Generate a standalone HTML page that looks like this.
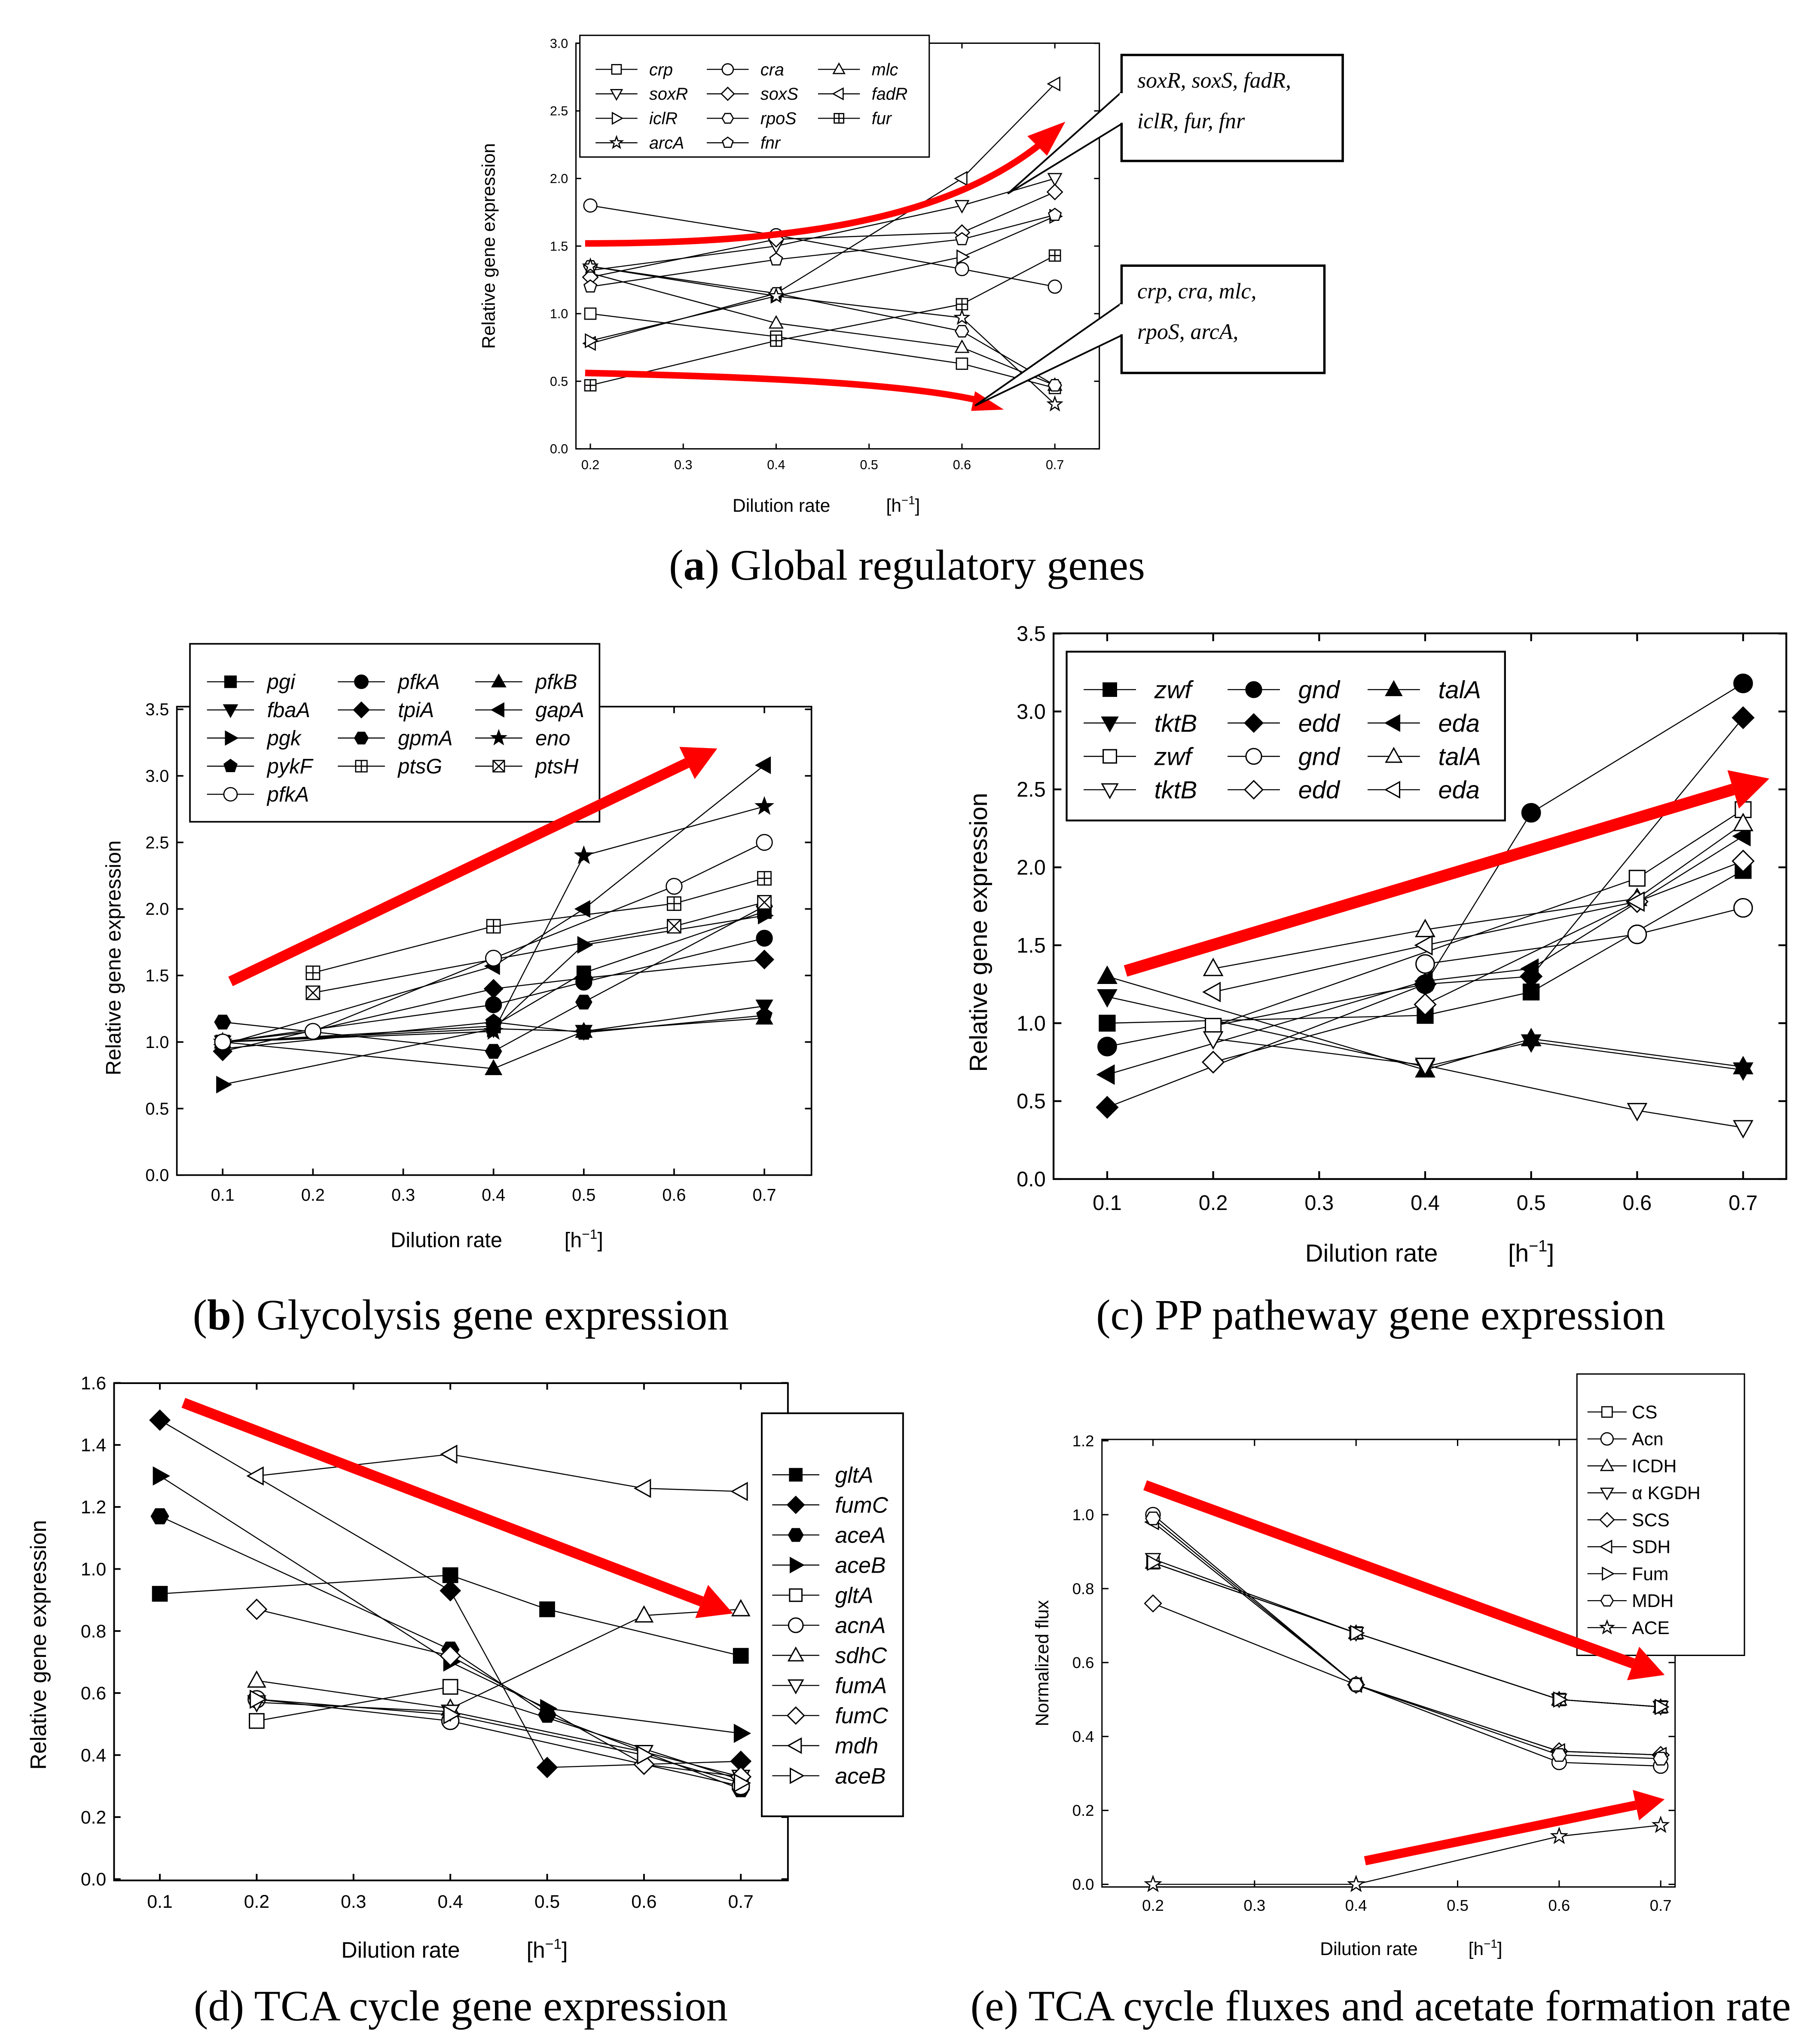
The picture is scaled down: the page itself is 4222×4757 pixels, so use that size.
<!DOCTYPE html>
<html><head><meta charset="utf-8">
<style>
html,body{margin:0;padding:0;background:#fff;}
svg{display:block;}
text{font-family:"Liberation Sans",sans-serif;fill:#000;}
.ser{font-family:"Liberation Serif",serif;}
</style></head>
<body>
<svg id="fig" xmlns="http://www.w3.org/2000/svg" width="4222" height="4757" viewBox="0 0 1386 1562">
<rect x="0" y="0" width="1386" height="1562" fill="#fff"/>
<g id="root"></g>
</svg>
<script>
// ---------- Panel a: global regulatory genes ----------
const aNames=["crp","cra","mlc","soxR","soxS","fadR","iclR","rpoS","fur","arcA","fnr"];
const aMarkers=["sq","ci","tu","td","di","tl","tr","hx","sp","st","pe"];
const aX=[0.2,0.4,0.6,0.7];
const aValues=[
[1.0,0.83,0.63,0.45],[1.8,1.58,1.33,1.2],[1.3,0.93,0.75,0.47],[1.32,1.5,1.8,2.0],
[1.27,1.55,1.6,1.9],[0.78,1.15,2.0,2.7],[0.8,1.13,1.42,1.72],[1.35,1.15,0.87,0.47],
[0.47,0.8,1.07,1.43],[1.35,1.13,0.97,0.33],[1.2,1.4,1.55,1.73]];
const aXTicks=[0.2,0.3,0.4,0.5,0.6,0.7];
const aYTicks=[0,0.5,1.0,1.5,2.0,2.5,3.0];
// ---------- Panel b: glycolysis ----------
const bNames=["pgi","pfkA","pfkB","fbaA","tpiA","gapA","pgk","gpmA","eno","pykF","ptsG","ptsH","pfkA"];
const bMarkers=["sq","ci","tu","td","di","tl","tr","hx","st","pe","sp","sx","ci"];
const bFilled=[1,1,1,1,1,1,1,1,1,1,0,0,0];
const bXs=[[0.1,0.4,0.5,0.7],[0.1,0.4,0.5,0.7],[0.1,0.4,0.5,0.7],[0.1,0.4,0.5,0.7],[0.1,0.4,0.5,0.7],[0.1,0.4,0.5,0.7],[0.1,0.4,0.5,0.7],[0.1,0.4,0.5,0.7],[0.1,0.4,0.5,0.7],[0.1,0.4,0.5,0.7],[0.2,0.4,0.6,0.7],[0.2,0.6,0.7],[0.1,0.2,0.4,0.6,0.7]];
const bValues=[
[1.0,1.12,1.52,1.98],[1.0,1.28,1.45,1.78],[1.0,0.8,1.08,1.18],[1.0,1.1,1.08,1.27],
[0.93,1.4,1.48,1.62],[0.98,1.57,2.0,3.08],[0.68,1.1,1.73,1.95],[1.15,0.93,1.3,2.02],
[1.0,1.08,2.4,2.77],[0.95,1.15,1.07,1.2],[1.52,1.87,2.04,2.23],[1.37,1.87,2.05],[1.0,1.08,1.63,2.17,2.5]];
const bXTicks=[0.1,0.2,0.3,0.4,0.5,0.6,0.7];
const bYTicks=[0,0.5,1.0,1.5,2.0,2.5,3.0,3.5];
// ---------- Panel c: PP pathway ----------
const cNames=["zwf","gnd","talA","tktB","edd","eda","zwf","gnd","talA","tktB","edd","eda"];
const cMarkers=["sq","ci","tu","td","di","tl","sq","ci","tu","td","di","tl"];
const cFilled=[1,1,1,1,1,1,0,0,0,0,0,0];
const cXs=[[0.1,0.4,0.5,0.7],[0.1,0.4,0.5,0.7],[0.1,0.4,0.5,0.7],[0.1,0.4,0.5,0.7],[0.1,0.4,0.5,0.7],[0.1,0.4,0.5,0.7],[0.2,0.6,0.7],[0.4,0.6,0.7],[0.2,0.4,0.6,0.7],[0.2,0.4,0.6,0.7],[0.2,0.4,0.6,0.7],[0.2,0.4,0.6]];
const cValues=[
[1.0,1.05,1.2,1.98],[0.85,1.25,2.35,3.18],[1.3,0.7,0.9,0.72],[1.17,0.72,0.88,0.7],
[0.46,1.25,1.3,2.96],[0.67,1.27,1.35,2.2],[0.98,1.93,2.37],[1.38,1.57,1.74],
[1.35,1.6,1.8,2.28],[0.9,0.73,0.44,0.33],[0.75,1.12,1.78,2.04],[1.2,1.5,1.78]];
const cXTicks=[0.1,0.2,0.3,0.4,0.5,0.6,0.7];
const cYTicks=[0,0.5,1.0,1.5,2.0,2.5,3.0,3.5];
// ---------- Panel d: TCA genes ----------
const dNames=["gltA","fumC","aceA","aceB","gltA","acnA","sdhC","fumA","fumC","mdh","aceB"];
const dMarkers=["sq","di","hx","tr","sq","ci","tu","td","di","tl","tr"];
const dFilled=[1,1,1,1,0,0,0,0,0,0,0];
const dXs=[[0.1,0.4,0.5,0.7],[0.1,0.4,0.5,0.7],[0.1,0.4,0.5,0.7],[0.1,0.4,0.5,0.7],[0.2,0.4,0.7],[0.2,0.4,0.7],[0.2,0.4,0.6,0.7],[0.2,0.4,0.6,0.7],[0.2,0.4,0.6,0.7],[0.2,0.4,0.6,0.7],[0.2,0.4,0.6,0.7]];
const dValues=[
[0.92,0.98,0.87,0.72],[1.48,0.93,0.36,0.38],[1.17,0.74,0.53,0.29],[1.3,0.7,0.55,0.47],
[0.51,0.62,0.32],[0.58,0.51,0.3],[0.64,0.55,0.85,0.87],[0.57,0.54,0.41,0.33],
[0.87,0.72,0.37,0.33],[1.3,1.37,1.26,1.25],[0.58,0.53,0.4,0.31]];
const dXTicks=[0.1,0.2,0.3,0.4,0.5,0.6,0.7];
const dYTicks=[0,0.2,0.4,0.6,0.8,1.0,1.2,1.4,1.6];
// ---------- Panel e: TCA fluxes ----------
const eNames=["CS","Acn","ICDH","α KGDH","SCS","SDH","Fum","MDH","ACE"];
const eMarkers=["sq","ci","tu","td","di","tl","tr","hx","st"];
const eX=[0.2,0.4,0.6,0.7];
const eValues=[
[0.87,0.68,0.5,0.48],[1.0,0.54,0.33,0.32],[0.87,0.68,0.5,0.48],[0.88,0.68,0.5,0.48],
[0.76,0.54,0.36,0.35],[0.98,0.54,0.36,0.35],[0.87,0.68,0.5,0.48],[0.99,0.54,0.35,0.34],[0.0,0.0,0.13,0.16]];
const eXTicks=[0.2,0.3,0.4,0.5,0.6,0.7];
const eYTicks=[0,0.2,0.4,0.6,0.8,1.0,1.2];

const NS="http://www.w3.org/2000/svg";
const root=document.getElementById('root');
function mk(tag,attrs,parent){const e=document.createElementNS(NS,tag);for(const k in attrs)e.setAttribute(k,attrs[k]);(parent||root).appendChild(e);return e;}
function txt(s,x,y,size,parent,extra){const t=mk('text',Object.assign({x:x,y:y,'font-size':size},extra||{}),parent);t.textContent=s;return t;}

function marker(g,type,x,y,r,filled,sw){
  const f=filled?'#000':'#fff';const st={fill:f,stroke:'#000','stroke-width':sw};
  let e;
  const poly=(pts)=>mk('polygon',Object.assign({points:pts.map(p=>(x+p[0]*r)+','+(y+p[1]*r)).join(' ')},st),g);
  if(type==='sq'||type==='sp'||type==='sx'){e=mk('rect',Object.assign({x:x-r*0.85,y:y-r*0.85,width:r*1.7,height:r*1.7},st),g);
    if(type==='sp'){mk('line',{x1:x,y1:y-r*0.85,x2:x,y2:y+r*0.85,stroke:'#000','stroke-width':sw},g);mk('line',{x1:x-r*0.85,y1:y,x2:x+r*0.85,y2:y,stroke:'#000','stroke-width':sw},g);}
    if(type==='sx'){mk('line',{x1:x-r*0.85,y1:y-r*0.85,x2:x+r*0.85,y2:y+r*0.85,stroke:'#000','stroke-width':sw},g);mk('line',{x1:x+r*0.85,y1:y-r*0.85,x2:x-r*0.85,y2:y+r*0.85,stroke:'#000','stroke-width':sw},g);}}
  else if(type==='ci')e=mk('circle',Object.assign({cx:x,cy:y,r:r},st),g);
  else if(type==='tu')e=poly([[0,-1.05],[1,0.75],[-1,0.75]]);
  else if(type==='td')e=poly([[0,1.05],[1,-0.75],[-1,-0.75]]);
  else if(type==='tl')e=poly([[-1.05,0],[0.75,-1],[0.75,1]]);
  else if(type==='tr')e=poly([[1.05,0],[-0.75,-1],[-0.75,1]]);
  else if(type==='di')e=poly([[0,-1.15],[1.15,0],[0,1.15],[-1.15,0]]);
  else if(type==='hx'){const p=[];for(let i=0;i<6;i++){const a=Math.PI/3*i;p.push([Math.cos(a),Math.sin(a)]);}e=poly(p);}
  else if(type==='pe'){const p=[];for(let i=0;i<5;i++){const a=-Math.PI/2+2*Math.PI/5*i;p.push([Math.cos(a),Math.sin(a)]);}e=poly(p);}
  else if(type==='st'){const p=[];for(let i=0;i<10;i++){const a=-Math.PI/2+Math.PI/5*i;const rr=i%2?0.45:1.1;p.push([rr*Math.cos(a),rr*Math.sin(a)]);}e=poly(p);}
  return e;
}

function arrow(x1,y1,x2,y2,w,name){
  const g=mk('g',{});
  
  
  const dx=x2-x1,dy=y2-y1,L=Math.hypot(dx,dy),ux=dx/L,uy=dy/L,hl=w*3.2,hw=w*1.7;
  const bx=x2-ux*hl,by=y2-uy*hl;
  mk('line',{x1:x1,y1:y1,x2:bx,y2:by,stroke:'#f00','stroke-width':w},g);
  mk('polygon',{points:`${x2},${y2} ${bx-uy*hw},${by+ux*hw} ${bx+uy*hw},${by-ux*hw}`,fill:'#f00'},g);
}

function panel(P){
  const g=mk('g',{});
  
  
  const X=v=>P.x0+(v-P.xv0)*P.xs, Y=v=>P.y0-(v-P.yv0)*P.ys;
  const ax=mk('g',{},g);
  
  
  mk('rect',{x:P.L,y:P.T,width:P.R-P.L,height:P.B-P.T,fill:'none',stroke:'#000','stroke-width':P.aw},ax);
  const tl=P.tick;
  P.xt.forEach(v=>{const x=X(v);mk('line',{x1:x,y1:P.B,x2:x,y2:P.B-tl,stroke:'#000','stroke-width':P.aw},ax);mk('line',{x1:x,y1:P.T,x2:x,y2:P.T+tl,stroke:'#000','stroke-width':P.aw},ax);
    txt(v.toFixed(1),x,P.B+P.tfs*1.35+2,P.tfs,ax,{'text-anchor':'middle'});});
  P.yt.forEach(v=>{const y=Y(v);mk('line',{x1:P.L,y1:y,x2:P.L+tl,y2:y,stroke:'#000','stroke-width':P.aw},ax);mk('line',{x1:P.R,y1:y,x2:P.R-tl,y2:y,stroke:'#000','stroke-width':P.aw},ax);
    txt(v.toFixed(1),P.L-6,y+P.tfs*0.35,P.tfs,ax,{'text-anchor':'end'});});
  const yl=txt(P.ylab,0,0,P.lfs,g,{'text-anchor':'middle',transform:`translate(${P.ylx},${(P.T+P.B)/2+P.yloff}) rotate(-90)`});
  
  
  const xl=txt('Dilution rate',P.xlx,P.xly,P.lfs,g,{'text-anchor':'middle'});
  
  
  const ul=mk('text',{x:P.ulx,y:P.xly,'font-size':P.lfs,'text-anchor':'middle'},g);
  ul.innerHTML='[h<tspan font-size="'+(P.lfs*0.65)+'" dy="-'+(P.lfs*0.4)+'">−1</tspan><tspan dy="'+(P.lfs*0.4)+'">]</tspan>';
  
  
  P.names.forEach((n,i)=>{
    const sg=mk('g',{},g);
    
    
    const xs=P.xs_[i],vs=P.vals[i];
    mk('polyline',{points:xs.map((x,k)=>X(x)+','+Y(vs[k])).join(' '),fill:'none',stroke:'#000','stroke-width':P.lw},sg);
    xs.forEach((x,k)=>{const m=marker(sg,P.mk[i],X(x),Y(vs[k]),P.mr,P.fill[i],P.msw);
      
      });
  });
  const lg=mk('g',{},g);
  
  
  mk('rect',{x:P.leg[0],y:P.leg[1],width:P.leg[2],height:P.leg[3],fill:'#fff',stroke:'#000','stroke-width':P.aw},lg);
  P.names.forEach((n,i)=>{
    const col=i%P.cols,row=Math.floor(i/P.cols);
    const lx=P.lcx[col],ly=P.lry0+row*P.lrs;
    const eg=mk('g',{},lg);
    
    
    mk('line',{x1:lx,y1:ly,x2:lx+P.lll,y2:ly,stroke:'#000','stroke-width':P.lw},eg);
    marker(eg,P.mk[i],lx+P.lll/2,ly,P.mr*0.85,P.fill[i],P.msw);
    txt(n,lx+P.lll+P.lgap,ly+P.lgfs*0.35,P.lgfs,eg,{'font-style':P.italic?'italic':'normal'});
  });
}

function rep(a,n){return Array(n).fill(a);}
panel({id:'panel-a',L:440,R:840,T:33,B:343,x0:451,xv0:0.2,xs:710,y0:343,yv0:0,ys:103.3,xt:aXTicks,yt:aYTicks,
  tfs:10,lfs:14,aw:1,tick:4,ylab:'Relative gene expression',ylx:378,yloff:0,xlx:597,xly:391,ulx:690,
  names:aNames,mk:aMarkers,fill:rep(0,11),xs_:rep(aX,11),vals:aValues,mr:5,lw:0.8,msw:0.9,
  leg:[443,27,267,93],cols:3,lcx:[455,540,625],lry0:53,lrs:18.7,lll:32,lgap:9,lgfs:13,italic:true});
panel({id:'panel-b',L:135,R:620,T:540,B:898,x0:170,xv0:0.1,xs:690,y0:898,yv0:0,ys:101.7,xt:bXTicks,yt:bYTicks,
  tfs:13,lfs:16,aw:1.2,tick:5,ylab:'Relative gene expression',ylx:92,yloff:13,xlx:341,xly:953,ulx:446,
  names:bNames,mk:bMarkers,fill:bFilled,xs_:bXs,vals:bValues,mr:6,lw:0.8,msw:0.9,
  leg:[145,492,313,136],cols:3,lcx:[158,258,363],lry0:521,lrs:21.5,lll:36,lgap:10,lgfs:16,italic:true});
panel({id:'panel-c',L:805,R:1365,T:484,B:901,x0:846,xv0:0.1,xs:810,y0:901,yv0:0,ys:119.1,xt:cXTicks,yt:cYTicks,
  tfs:16,lfs:19,aw:1.4,tick:6,ylab:'Relative gene expression',ylx:754,yloff:20,xlx:1048,xly:964,ulx:1170,
  names:cNames,mk:cMarkers,fill:cFilled,xs_:cXs,vals:cValues,mr:7,lw:0.8,msw:1,
  leg:[815,498,335,129],cols:3,lcx:[828,938,1045],lry0:527,lrs:25.5,lll:40,lgap:14,lgfs:19,italic:true});
panel({id:'panel-d',L:87,R:602,T:1057,B:1437,x0:122,xv0:0.1,xs:740,y0:1436,yv0:0,ys:237,xt:dXTicks,yt:dYTicks,
  tfs:14,lfs:17,aw:1.3,tick:5,ylab:'Relative gene expression',ylx:35,yloff:10,xlx:306,xly:1496,ulx:418,
  names:dNames,mk:dMarkers,fill:dFilled,xs_:dXs,vals:dValues,mr:6.5,lw:0.8,msw:1,
  leg:[582,1080,108,308],cols:1,lcx:[590],lry0:1127,lrs:23,lll:36,lgap:12,lgfs:17,italic:true});
panel({id:'panel-e',L:842,R:1280,T:1100,B:1442,x0:881,xv0:0.2,xs:776,y0:1440,yv0:0,ys:282.5,xt:eXTicks,yt:eYTicks,
  tfs:12,lfs:14,aw:1,tick:5,ylab:'Normalized flux',ylx:801,yloff:0,xlx:1046,xly:1494,ulx:1135,
  names:eNames,mk:eMarkers,fill:rep(0,9),xs_:rep(eX,9),vals:eValues,mr:5.5,lw:0.8,msw:0.9,
  leg:[1205,1050,128,215],cols:1,lcx:[1213],lry0:1079,lrs:20.6,lll:30,lgap:4,lgfs:14,italic:false});

(function(){
  const g=mk('g',{});
  
  
  mk('path',{d:'M447,186 C600,186 720,170 795,110',fill:'none',stroke:'#f00','stroke-width':5},g);
  mk('polygon',{points:'814,93 785,104 800,119',fill:'#f00'},g);
  const g2=mk('g',{});
  
  
  mk('path',{d:'M447,285 C580,288 690,293 748,306',fill:'none',stroke:'#f00','stroke-width':5},g2);
  mk('polygon',{points:'767,313 745,299 742,314',fill:'#f00'},g2);
})();
arrow(176,750,548,572,8,'panel-b-trend-arrow');
arrow(860,742,1352,595,9,'panel-c-trend-arrow');
arrow(140,1072,560,1233,8,'panel-d-trend-arrow');
arrow(875,1135,1272,1280,8,'panel-e-flux-arrow');
arrow(1043,1422,1272,1375,7,'panel-e-acetate-arrow');

function callout(x,y,w,h,lines,lx1,ly1,lx2,ly2,name){
  const g=mk('g',{});
  
  
  mk('polygon',{points:`${x},${y+h*0.35} ${lx2},${ly2} ${x},${y+h*0.65}`,fill:'#fff',stroke:'#000','stroke-width':1.3},g);
  mk('rect',{x:x,y:y,width:w,height:h,fill:'#fff',stroke:'#000','stroke-width':1.8},g);
  mk('line',{x1:x,y1:y+h*0.36,x2:x,y2:y+h*0.64,stroke:'#fff','stroke-width':3},g);
  lines.forEach((s,i)=>txt(s,x+12,y+25+i*31,17,g,{'class':'ser','font-style':'italic'}));
}
callout(857,42,169,81,['soxR, soxS, fadR,','iclR, fur, fnr'],0,0,770,148,'callout-upregulated');
callout(857,203,155,82,['crp,  cra,  mlc,','rpoS, arcA,'],0,0,745,310,'callout-downregulated');

function cap(parts,x,y,name){
  const t=mk('text',{x:x,y:y,'font-size':33,'text-anchor':'middle','class':'ser'});
  t.innerHTML=parts;
  
  
}
cap('(<tspan font-weight="bold">a</tspan>) Global regulatory genes',693,443,'caption-a');
cap('(<tspan font-weight="bold">b</tspan>) Glycolysis gene expression',352,1016,'caption-b');
cap('(c) PP patheway gene expression',1055,1016,'caption-c');
cap('(d) TCA cycle gene expression',352,1544,'caption-d');
cap('(e) TCA cycle fluxes and acetate formation rate',1055,1544,'caption-e');
</script>
</body></html>
